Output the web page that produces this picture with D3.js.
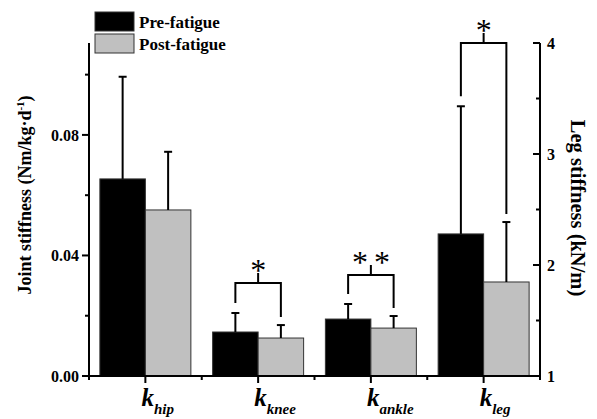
<!DOCTYPE html>
<html><head><meta charset="utf-8">
<script src="https://cdn.jsdelivr.net/npm/d3@7"></script>
<style>body{margin:0;background:#fff}svg{display:block}text{font-family:"Liberation Serif","Times New Roman",serif;font-weight:bold}</style>
</head><body><svg id="c" width="597" height="419"></svg>
<script>
const categories = ["hip", "knee", "ankle", "leg"];
const series = ["Pre-fatigue", "Post-fatigue"];
const preMeans = [0.0654, 0.0146, 0.0189, 2.28];
const preSD = [0.0339, 0.0063, 0.0050, 1.15];
const postMeans = [0.0551, 0.0126, 0.0159, 1.847];
const postSD = [0.0193, 0.0043, 0.0040, 0.54];
const leftTicks = [0.00, 0.04, 0.08];
const leftMinor = [0.02, 0.06, 0.10];
const rightTicks = [1, 2, 3, 4];
const rightMinor = [1.5, 2.5, 3.5];
const sigCats = ["knee", "ankle", "leg"];
const sigLabels = ["*", "**", "*"];
const sigLevels = [0.0309, 0.0335, 4.0]; // bracket heights (in axis units)

const colors = ["#000000", "#c0c0c0"];
const svg = d3.select("#c");
const L = 89, R = 540, T = 43, B = 376;

const x0 = d3.scaleBand().domain(categories).range([L, R]).paddingInner(0.193).paddingOuter(0.0965);
const x1 = d3.scaleBand().domain(series).range([0, x0.bandwidth()]);
const yL = d3.scaleLinear().domain([0, 0.1105]).range([B, T]);
const yR = d3.scaleLinear().domain([1, 4]).range([B, T]);
const yFor = c => c === "leg" ? yR : yL;

const data = [];
categories.forEach((c, i) => {
  data.push({c, s: series[0], m: preMeans[i], sd: preSD[i], col: colors[0]});
  data.push({c, s: series[1], m: postMeans[i], sd: postSD[i], col: colors[1]});
});

// bars
svg.append("g").selectAll("rect").data(data).join("rect")
  .attr("x", d => x0(d.c) + x1(d.s))
  .attr("width", x1.bandwidth())
  .attr("y", d => yFor(d.c)(d.m))
  .attr("height", d => B - yFor(d.c)(d.m))
  .attr("fill", d => d.col)
  .attr("stroke", "#333").attr("stroke-width", 1);

// error bars (upper)
const eb = svg.append("g").attr("stroke", "#000").attr("stroke-width", 2);
data.forEach(d => {
  const cx = x0(d.c) + x1(d.s) + x1.bandwidth() / 2;
  const y = yFor(d.c);
  eb.append("line").attr("x1", cx).attr("x2", cx).attr("y1", y(d.m)).attr("y2", y(d.m + d.sd));
  eb.append("line").attr("x1", cx - 4).attr("x2", cx + 4).attr("y1", y(d.m + d.sd)).attr("y2", y(d.m + d.sd));
});

// significance brackets
sigCats.forEach((c, k) => {
  const i = categories.indexOf(c);
  const y = yFor(c);
  const xa = x0(c) + x1(series[0]) + x1.bandwidth() / 2;
  const xb = x0(c) + x1(series[1]) + x1.bandwidth() / 2;
  const yb = y(sigLevels[k]);
  const ya = y(preMeans[i] + preSD[i]) - 10;
  const yc = y(postMeans[i] + postSD[i]) - 8;
  const xm = (xa + xb) / 2;
  svg.append("path")
    .attr("d", `M${xa},${ya}V${yb}H${xb}V${yc}M${xm},${yb}V${yb - 10}`)
    .attr("fill", "none").attr("stroke", "#000").attr("stroke-width", 2);
  const ls = sigLabels[k].length > 1 ? 6 : 0;
  svg.append("text").attr("x", xm + ls / 2).attr("y", yb - 2)
    .attr("text-anchor", "middle").attr("font-size", 32).style("font-weight", "normal")
    .attr("letter-spacing", ls)
    .text(sigLabels[k]);
});

// axes
const ax = svg.append("g").attr("stroke", "#000").attr("stroke-width", 2).attr("fill", "none");
ax.append("line").attr("x1", L).attr("x2", L).attr("y1", T).attr("y2", B + 1);
ax.append("line").attr("x1", R).attr("x2", R).attr("y1", T).attr("y2", B + 1);
ax.append("line").attr("x1", L - 1).attr("x2", R + 1).attr("y1", B).attr("y2", B);

leftTicks.forEach(v => {
  ax.append("line").attr("x1", L - 7).attr("x2", L).attr("y1", yL(v)).attr("y2", yL(v));
  svg.append("text").attr("x", L - 10).attr("y", yL(v) + 6).attr("text-anchor", "end")
    .attr("font-size", 16).text(d3.format(".2f")(v));
});
leftMinor.forEach(v => ax.append("line").attr("x1", L - 4).attr("x2", L).attr("y1", yL(v)).attr("y2", yL(v)));
rightTicks.forEach(v => {
  ax.append("line").attr("x1", R - 7).attr("x2", R).attr("y1", yR(v)).attr("y2", yR(v));
  svg.append("text").attr("x", R + 7).attr("y", yR(v) + 6).attr("text-anchor", "start")
    .attr("font-size", 16).text(v);
});
rightMinor.forEach(v => ax.append("line").attr("x1", R - 4).attr("x2", R).attr("y1", yR(v)).attr("y2", yR(v)));

categories.forEach((c, i) => {
  const cx = x0(c) + x0.bandwidth() / 2;
  ax.append("line").attr("x1", cx).attr("x2", cx).attr("y1", B).attr("y2", B + 7);
  const t = svg.append("text").attr("x", cx - 4).attr("y", 406).attr("font-style", "italic").attr("font-size", 25);
  t.append("tspan").text("k");
  t.append("tspan").attr("font-size", 15).attr("dy", 8).text(c);
});
d3.range(categories.length + 1).forEach(i => {
  const bx = L + x0.step() * i;
  ax.append("line").attr("x1", bx).attr("x2", bx).attr("y1", B).attr("y2", B + 4);
});

// axis titles
const tl = svg.append("text").attr("transform", "translate(31,195) rotate(-90)")
  .attr("text-anchor", "middle").attr("font-size", 18);
tl.append("tspan").text("Joint stiffness (Nm/kg·d");
tl.append("tspan").attr("font-size", 11).attr("dy", -7).text("-1");
tl.append("tspan").attr("dy", 7).text(")");
svg.append("text").attr("transform", "translate(571,208) rotate(90)")
  .attr("text-anchor", "middle").attr("font-size", 20.5).text("Leg stiffness (kN/m)");

// legend
series.forEach((s, i) => {
  svg.append("rect").attr("x", 95).attr("y", 12 + i * 22).attr("width", 39).attr("height", 19)
    .attr("fill", colors[i]).attr("stroke", "#333").attr("stroke-width", 1);
  svg.append("text").attr("x", 139).attr("y", 28 + i * 22).attr("font-size", 17).text(s);
});
</script></body></html>
